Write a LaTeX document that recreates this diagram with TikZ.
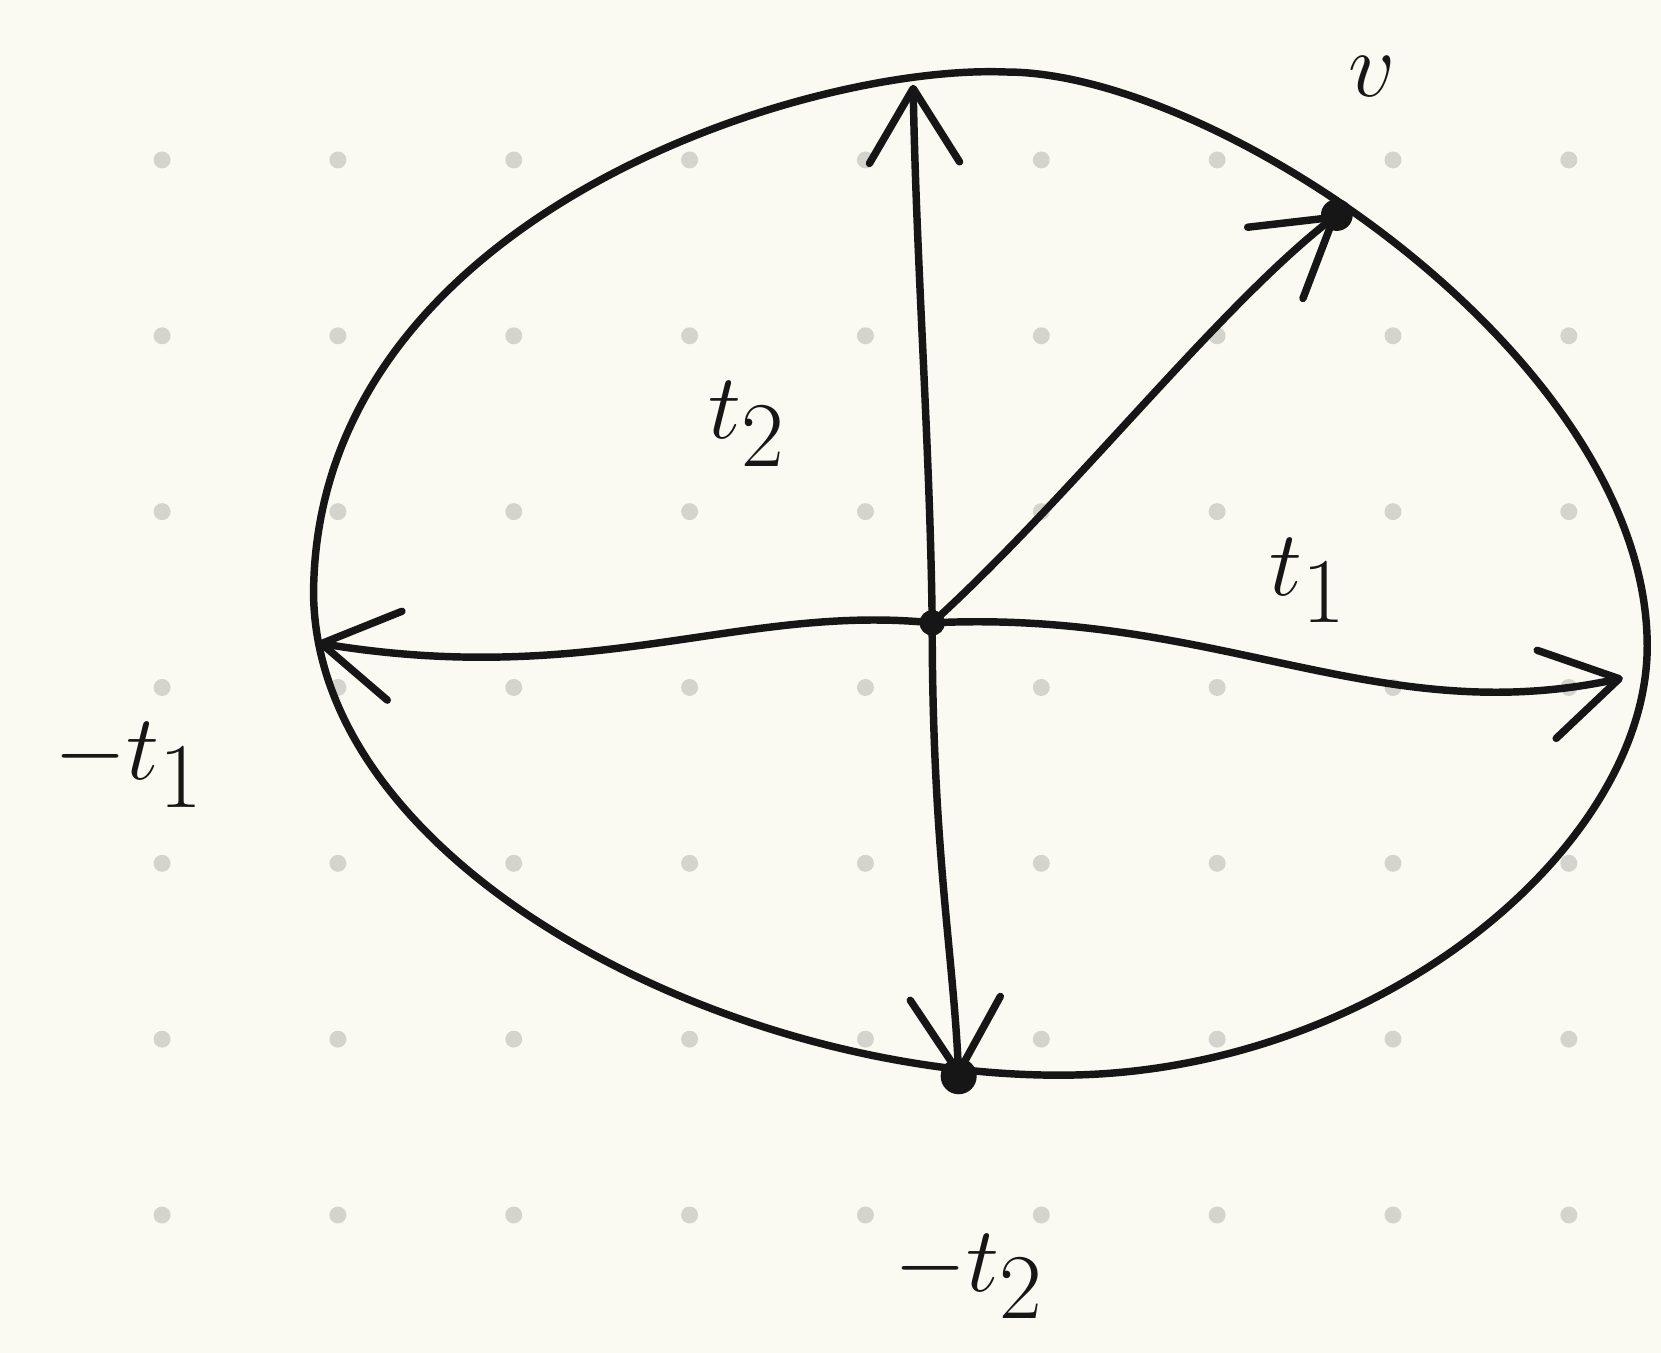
\documentclass[tikz,border=0pt]{standalone}
\usepackage{tikz}
\usepackage{xcolor}
\usepackage{amssymb,amsmath}
\usetikzlibrary{calc,arrows.meta}
\definecolor{paperCream}{RGB}{250,250,242}
\definecolor{gridGrey}{RGB}{212,212,206}
\definecolor{inkBlack}{RGB}{22,22,22}
\newcommand{\handlab}[1]{\fontsize{48}{56}\selectfont$#1$}

\begin{document}
\begin{tikzpicture}[x=0.01cm,y=-0.01cm,
  ink/.style={draw=inkBlack,line width=2pt,line cap=round,line join=round},
  vec/.style={ink,-{Straight Barb[round,length=0.7cm,width=0.85cm]}},
  lab/.style={text=inkBlack,inner sep=0pt}]
\useasboundingbox (0,0) rectangle (1568,1277);
\fill[paperCream] (0,0) rectangle (1568,1277);
% dotted paper
\foreach \gx in {153,319,...,1481}
  \foreach \gy in {151,317,...,1147}
    \fill[gridGrey] (\gx,\gy) circle (0.08cm);
% the egg
\draw[ink] (950,68) .. controls (760,60) and (298,205) .. (296,560)
  .. controls (298,815) and (680,1015) .. (1000,1015)
  .. controls (1300,1015) and (1555,800) .. (1555,610)
  .. controls (1555,340) and (1150,68) .. cycle;
\coordinate (o) at (880,588);
\coordinate (up) at (862,80);
\coordinate (vv) at (1262,203);
\coordinate (east) at (1532,640);
\coordinate (west) at (300,607);
\coordinate (south) at (905,1016);
\draw[vec] (o) .. controls (878,420) and (865,250) .. (up);
\draw[vec] (o) .. controls (1010,470) and (1150,290) .. (vv);
\draw[vec] (o) .. controls (1150,575) and (1300,690) .. (east);
\draw[vec] (o) .. controls (700,570) and (560,650) .. (west);
\draw[vec] (o) .. controls (880,800) and (900,900) .. (south);
\fill[inkBlack] (o) circle (0.12cm);
\fill[inkBlack] (vv) circle (0.15cm);
\fill[inkBlack] (south) circle (0.17cm);
\node[lab] (ltwo) at (705,400) {\handlab{t_2}};
\node[lab] (lone) at (1235,548) {\handlab{t_1}};
\node[lab] (lmone) at (122,722) {\handlab{-t_1}};
\node[lab] (lmtwo) at (915,1205) {\handlab{-t_2}};
\node[lab] (lv) at (1295,72) {\handlab{v}};
\end{tikzpicture}
\end{document}
